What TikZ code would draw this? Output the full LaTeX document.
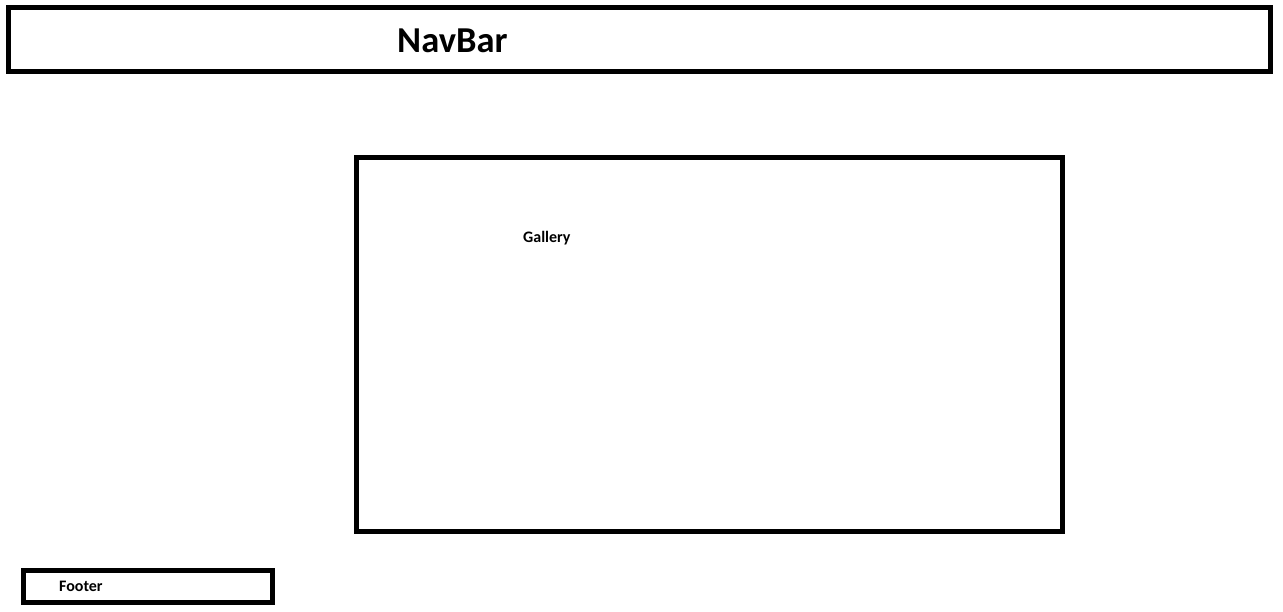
\documentclass[tikz,border=0pt]{standalone}
\usepackage{fontspec}
\setmainfont{Carlito}
\usepackage{tikz}
\tikzstyle{panel}=[draw, line width=5pt]
\tikzstyle{label}=[inner sep=0pt, anchor=base west, font=\bfseries\fontsize{16}{18}\selectfont]
\newcommand{\panel}{\draw[panel]}

\begin{document}
\begin{tikzpicture}[x=1pt, y=-1pt]
\useasboundingbox (0,0) rectangle (1283,611);
\panel (8.5,7.5) rectangle (1270.5,71.5);
\panel (356,157.5) rectangle (1062.5,531);
\panel (23.5,570.5) rectangle (272.5,602);
\node[label, font=\bfseries\fontsize{36.5}{40}\selectfont] (navbar) at (397,52) {NavBar};
\node[label] (gallery) at (523,242) {Gallery};
\node[label] (footer) at (59,591) {Footer};
\end{tikzpicture}
\end{document}
